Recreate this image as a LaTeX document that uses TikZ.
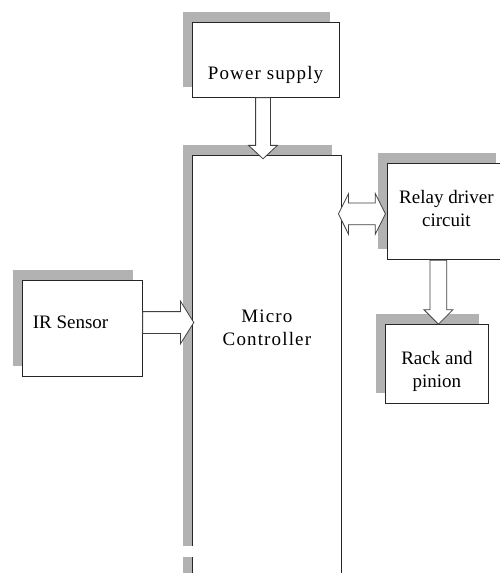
\documentclass[tikz,border=0pt]{standalone}
\usepackage{fontspec}
\setmainfont{Liberation Serif}
\newfontfamily\widefont[LetterSpace=6]{Liberation Serif}
\usetikzlibrary{shapes.arrows,shadows,calc}

\tikzset{
  box/.style={draw=black!85, line width=0.8pt, fill=white, inner sep=0pt,
    drop shadow={shadow xshift=-9pt, shadow yshift=10pt, fill=gray!60, opacity=1}},
  txt/.style={font=\fontsize{19}{23}\selectfont, align=center, inner sep=0pt},
  widetxt/.style={txt, font=\fontsize{19}{23}\widefont},
  blockarrow/.style={single arrow, draw=black!75, line width=0.8pt, fill=white, inner xsep=0pt},
  twoarrow/.style={double arrow, draw=black!75, line width=0.8pt, fill=white, inner xsep=0pt}
}

\begin{document}
\begin{tikzpicture}[x=1pt,y=-1pt]
  \useasboundingbox (0,0) rectangle (500,573);
  \fill[white] (0,0) rectangle (500,573);
  \clip (0,0) rectangle (500,573);

  % blocks
  \node[box, minimum width=147pt, minimum height=75pt,
    label={[widetxt, anchor=base, yshift=-15.5pt]center:Power supply}] (ps) at (265.5,59.5) {};
  \node[box, anchor=north west, minimum width=149pt, minimum height=470pt,
    label={[widetxt, anchor=base, yshift=-190pt]north:Micro\\Controller}] (mc) at (192,155) {};
  \node[box, minimum width=120pt, minimum height=96pt,
    label={[txt, anchor=base west, xshift=11pt]west:IR Sensor}] (ir) at (82,328) {};
  \node[box, anchor=north west, minimum width=118pt, minimum height=96pt,
    label={[txt, anchor=base, yshift=3pt]center:Relay driver\\circuit}] (rel) at (387,163) {};
  \node[box, anchor=north west, minimum width=103pt, minimum height=79pt,
    label={[txt, anchor=base, yshift=-7.5pt]center:Rack and\\pinion}] (rack) at (385,324) {};

  % gap in the left side of the controller
  \fill[white] (176,546) rectangle (197,557);

  % block arrows
  \node[blockarrow, rotate=-90, anchor=tail, minimum height=61pt, inner ysep=7pt,
    single arrow head extend=7pt, single arrow tip angle=94] (psmc) at ([xshift=-2.5pt]ps.south) {};
  \node[blockarrow, anchor=tail, minimum height=51pt, inner ysep=10.5pt,
    single arrow head extend=10.5pt, single arrow tip angle=116] (irmc) at ([yshift=5.5pt]ir.east) {};
  \node[twoarrow, minimum height=47pt, inner ysep=10.5pt,
    double arrow head extend=9.5pt, double arrow tip angle=127] (mcrel) at ($(mc.east |- rel.west)!0.5!(rel.west)+(-2.5pt,-2.5pt)$) {};
  \node[blockarrow, rotate=-90, anchor=tail, minimum height=64pt, inner ysep=8pt,
    single arrow head extend=6pt, single arrow tip angle=90] (relrack) at ([xshift=1.5pt]rack.north |- rel.south) {};
\end{tikzpicture}
\end{document}
